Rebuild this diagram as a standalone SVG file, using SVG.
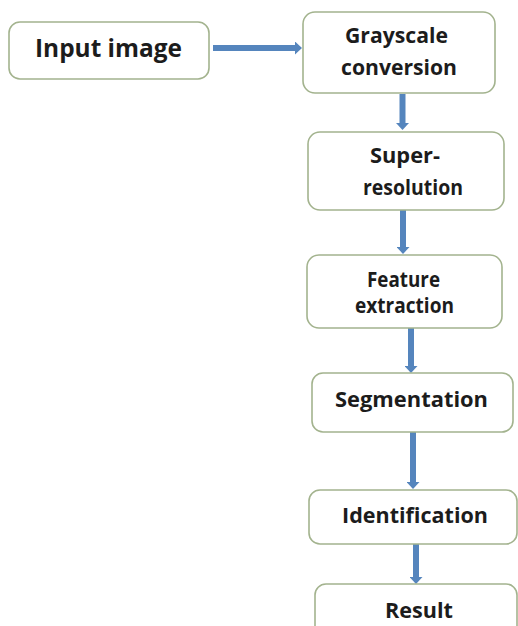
<svg xmlns="http://www.w3.org/2000/svg" width="518" height="626" viewBox="0 0 518 626">
<style>
.box{fill:#ffffff;stroke:#a3b38e;stroke-width:1.6}
.t{font-family:"Open Sans","Liberation Sans",sans-serif;font-weight:700;font-size:21px;fill:#1c1c1c;text-anchor:middle}
.conn{stroke:#5585bd;stroke-width:6;fill:none}
</style>
<defs>
<marker id="ah" viewBox="0 0 7 13" refX="0" refY="6.5" markerWidth="7" markerHeight="13" markerUnits="userSpaceOnUse" orient="auto">
<path d="M0,0 L7,6.5 L0,13 z" fill="#5585bd"/>
</marker>
</defs>
<rect width="518" height="626" fill="#ffffff"/>
<g id="connectors">
<line class="conn" x1="213" y1="48" x2="295" y2="48" marker-end="url(#ah)"/>
<line class="conn" x1="402.5" y1="94" x2="402.5" y2="123" marker-end="url(#ah)"/>
<line class="conn" x1="403" y1="210" x2="403" y2="247" marker-end="url(#ah)"/>
<line class="conn" x1="411" y1="328" x2="411" y2="366" marker-end="url(#ah)"/>
<line class="conn" x1="413" y1="432" x2="413" y2="482" marker-end="url(#ah)"/>
<line class="conn" x1="416" y1="544" x2="416" y2="577" marker-end="url(#ah)"/>
</g>
<g id="input-image">
<rect class="box" x="9" y="22" width="200" height="57" rx="11"/>
<text class="t" x="108.5" y="57" style="font-size:25px" textLength="147" lengthAdjust="spacingAndGlyphs">Input image</text>
</g>
<g id="grayscale">
<rect class="box" x="303" y="12" width="192" height="81" rx="12"/>
<text class="t" x="396.5" y="43" textLength="103" lengthAdjust="spacingAndGlyphs">Grayscale</text>
<text class="t" x="399" y="75" textLength="116" lengthAdjust="spacingAndGlyphs">conversion</text>
</g>
<g id="super-resolution">
<rect class="box" x="308" y="132" width="196" height="78" rx="12"/>
<text class="t" x="405" y="163" textLength="70" lengthAdjust="spacingAndGlyphs">Super-</text>
<text class="t" x="413" y="195" textLength="100" lengthAdjust="spacingAndGlyphs">resolution</text>
</g>
<g id="feature-extraction">
<rect class="box" x="307" y="255" width="195" height="73" rx="12"/>
<text class="t" x="403.5" y="287" textLength="73" lengthAdjust="spacingAndGlyphs">Feature</text>
<text class="t" x="404.5" y="313" textLength="99" lengthAdjust="spacingAndGlyphs">extraction</text>
</g>
<g id="segmentation">
<rect class="box" x="312" y="373" width="201" height="59" rx="11"/>
<text class="t" x="411.5" y="407" textLength="153" lengthAdjust="spacingAndGlyphs">Segmentation</text>
</g>
<g id="identification">
<rect class="box" x="309" y="490" width="208" height="54" rx="11"/>
<text class="t" x="415" y="523" textLength="146" lengthAdjust="spacingAndGlyphs">Identification</text>
</g>
<g id="result">
<rect class="box" x="315" y="584" width="202" height="60" rx="11"/>
<text class="t" x="419" y="618" textLength="68" lengthAdjust="spacingAndGlyphs">Result</text>
</g>
</svg>
